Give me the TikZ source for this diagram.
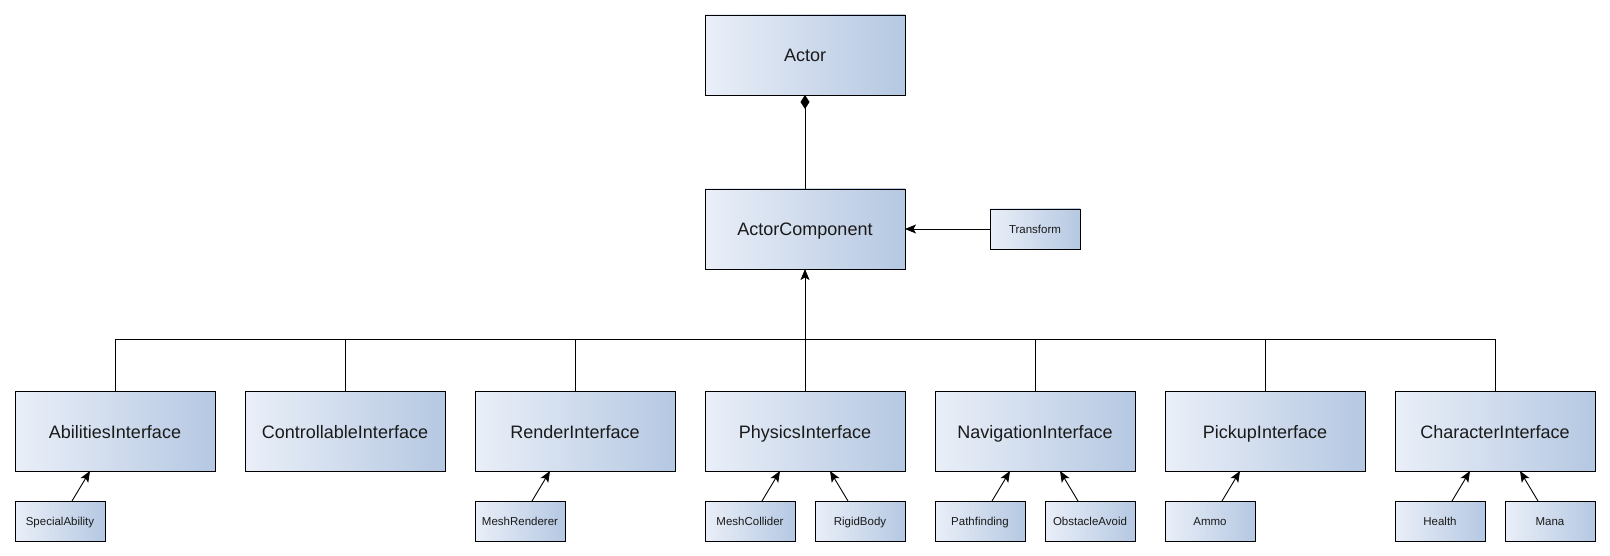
\documentclass[tikz,border=0pt]{standalone}
\usepackage{fontspec}
\setmainfont{Liberation Sans}
\usetikzlibrary{arrows.meta}
\definecolor{boxL}{HTML}{EAEFF8}
\definecolor{boxR}{HTML}{B5C8E2}
\definecolor{txt}{HTML}{1A1A1A}
\tikzset{
  base/.style={draw=black, line width=0.9pt, left color=boxL, right color=boxR, inner sep=0pt, outer sep=0pt, text=txt},
  bigbox/.style={base, minimum width=200pt, minimum height=80pt, text height=17pt, text depth=3pt, font=\fontsize{18}{20}\selectfont},
  smallbox/.style={base, minimum width=90pt, minimum height=40pt, text height=11pt, text depth=2pt, font=\fontsize{11.5}{13}\selectfont},
  conn/.style={line width=0.9pt, draw=black},
  arr/.style={conn, -{Stealth[length=11pt,width=9pt,inset=2.5pt]}},
  comp/.style={conn, {Diamond[length=14pt,width=9pt]}-}
}
\begin{document}
\begin{tikzpicture}[x=1pt,y=-1pt]
\useasboundingbox (0,0) rectangle (1610,556);
% top
\node[bigbox] (actor) at (805,55) {Actor};
\node[bigbox] (ac) at (805,229) {ActorComponent};
\node[smallbox] (tr) at (1035,229) {Transform};
% interfaces
\node[bigbox] (ai) at (115,431) {AbilitiesInterface};
\node[bigbox] (ci) at (345,431) {ControllableInterface};
\node[bigbox] (ri) at (575,431) {RenderInterface};
\node[bigbox] (pi) at (805,431) {PhysicsInterface};
\node[bigbox] (ni) at (1035,431) {NavigationInterface};
\node[bigbox] (pk) at (1265,431) {PickupInterface};
\node[bigbox] (chi) at (1495,431) {CharacterInterface};
% children
\node[smallbox] (sa) at (60,521) {SpecialAbility};
\node[smallbox] (mr) at (520,521) {MeshRenderer};
\node[smallbox] (mc) at (750,521) {MeshCollider};
\node[smallbox] (rb) at (860,521) {RigidBody};
\node[smallbox] (pf) at (980,521) {Pathfinding};
\node[smallbox] (oa) at (1090,521) {ObstacleAvoid};
\node[smallbox] (am) at (1210,521) {Ammo};
\node[smallbox] (he) at (1440,521) {Health};
\node[smallbox] (ma) at (1550,521) {Mana};
% connectors
\draw[comp] (actor.south) -- (ac.north);
\draw[arr] (tr.west) -- (ac.east);
\coordinate (bus) at (805,339);
\draw[arr] (pi.north) -- (ac.south);
\foreach \n in {ai,ci,ri,ni,pk,chi} \draw[conn] (\n.north) |- (bus);
% child arrows
\draw[arr] ([xshift=12pt]sa.north) -- ([xshift=-25pt]ai.south);
\draw[arr] ([xshift=12pt]mr.north) -- ([xshift=-25pt]ri.south);
\draw[arr] ([xshift=12pt]mc.north) -- ([xshift=-25pt]pi.south);
\draw[arr] ([xshift=-12pt]rb.north) -- ([xshift=25pt]pi.south);
\draw[arr] ([xshift=12pt]pf.north) -- ([xshift=-25pt]ni.south);
\draw[arr] ([xshift=-12pt]oa.north) -- ([xshift=25pt]ni.south);
\draw[arr] ([xshift=12pt]am.north) -- ([xshift=-25pt]pk.south);
\draw[arr] ([xshift=12pt]he.north) -- ([xshift=-25pt]chi.south);
\draw[arr] ([xshift=-12pt]ma.north) -- ([xshift=25pt]chi.south);
\end{tikzpicture}
\end{document}
